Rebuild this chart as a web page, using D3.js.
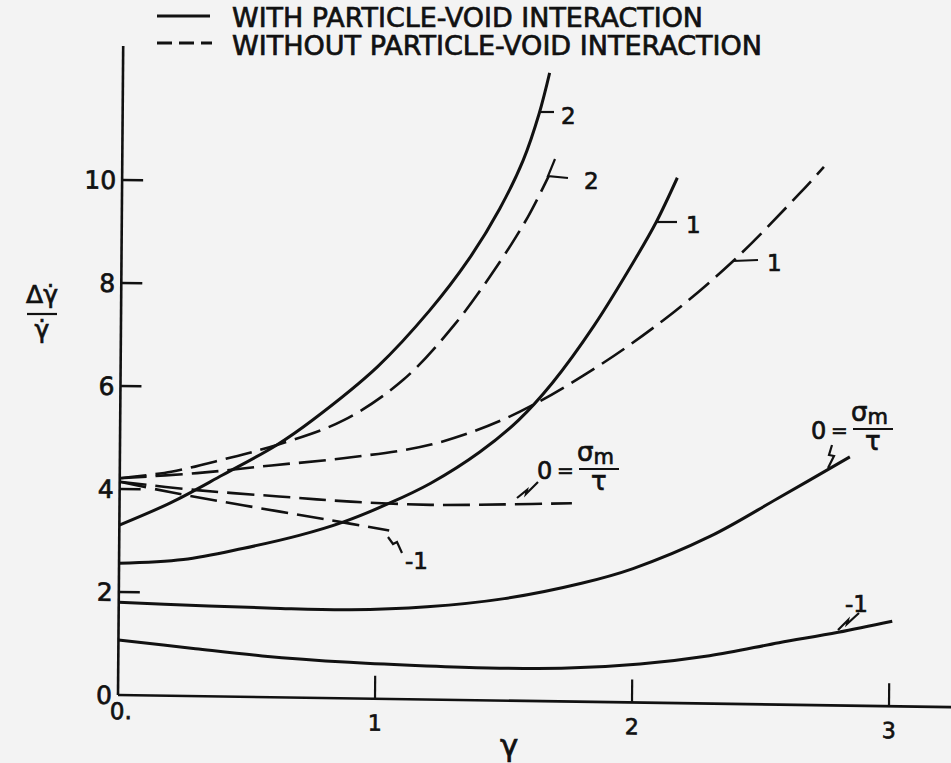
<!DOCTYPE html>
<html>
<head>
<meta charset="utf-8">
<script src="https://cdn.jsdelivr.net/npm/d3@7"></script>
<style>
  html, body { margin: 0; padding: 0; background: #f3f3f3; }
  text { font-family: 'DejaVu Sans', sans-serif; fill: #111; stroke: #111; stroke-width: 0.7px; }
</style>
</head>
<body>
<div id="chart"></div>
<script>
// readings: [gamma, delta-gamma-dot / gamma-dot]
var withTwo = [[0,3.3],[0.2,3.75],[0.4,4.3],[0.61,4.9],[0.75,5.4],[1.0,6.45],[1.2,7.55],[1.35,8.55],[1.47,9.55],[1.56,10.5],[1.62,11.4],[1.66,12.2]];
var withOne = [[0,2.56],[0.25,2.65],[0.48,2.88],[0.7,3.15],[0.87,3.42],[1.05,3.8],[1.21,4.2],[1.4,4.82],[1.55,5.45],[1.68,6.18],[1.84,7.3],[2.0,8.62],[2.08,9.34],[2.16,10.2]];
var withZero = [[0,1.8],[0.3,1.76],[0.6,1.73],[0.9,1.72],[1.2,1.8],[1.5,1.98],[1.8,2.3],[2.0,2.6],[2.3,3.25],[2.56,4.0],[2.84,4.83]];
var withMinusOne = [[0,1.07],[0.3,0.92],[0.56,0.8],[0.9,0.7],[1.2,0.65],[1.44,0.63],[1.75,0.65],[2.03,0.75],[2.3,0.93],[2.57,1.2],[2.8,1.42],[3.01,1.65]];

var withoutTwo = [[0,4.21],[0.2,4.35],[0.4,4.6],[0.61,4.9],[0.87,5.4],[1.1,6.2],[1.3,7.3],[1.47,8.5],[1.58,9.4],[1.66,10.2]];
var withoutOne = [[0,4.21],[0.3,4.33],[0.59,4.5],[0.9,4.68],[1.21,4.95],[1.5,5.48],[1.8,6.33],[2.11,7.43],[2.38,8.6],[2.64,9.95],[2.73,10.45]];
var withoutZero = [[0,4.14],[0.3,4.0],[0.62,3.9],[0.9,3.82],[1.21,3.78],[1.5,3.81],[1.76,3.85]];
var withoutMinusOne = [[0,4.14],[0.2,3.95],[0.48,3.72],[0.8,3.47],[1.05,3.27]];

var xTicks = [1, 2, 3];
var yTicks = [2, 4, 6, 8, 10];
var legendLabels = ['WITH PARTICLE-VOID INTERACTION', 'WITHOUT PARTICLE-VOID INTERACTION'];

var width = 951,
    height = 763;

var ink = '#111';

var svg = d3.select('#chart')
  .append('svg')
  .attr('width', width)
  .attr('height', height);

// the scan is a little skewed, so the plot frame is too
var g = svg.append('g')
  .attr('transform', 'matrix(1,0.0145,-0.008,1,118,695)');

var x = d3.scaleLinear().domain([0, 3]).range([0, 771]);
var y = d3.scaleLinear().domain([0, 10]).range([0, -515]);

// axes
g.append('line')
  .attr('x1', 0).attr('y1', 0)
  .attr('x2', x(3.25)).attr('y2', 0)
  .style('stroke', ink).style('stroke-width', 2.6);

g.append('line')
  .attr('x1', 0).attr('y1', 0)
  .attr('x2', 0).attr('y2', y(12.6))
  .style('stroke', ink).style('stroke-width', 2.6);

g.selectAll('.ytick')
  .data(yTicks)
  .enter().append('line')
  .attr('x1', 0).attr('x2', 21)
  .attr('y1', function(d) { return y(d); })
  .attr('y2', function(d) { return y(d); })
  .style('stroke', ink).style('stroke-width', 2.4);

g.selectAll('.ylabel')
  .data([0].concat(yTicks))
  .enter().append('text')
  .text(function(d) { return d; })
  .attr('x', -6)
  .attr('y', function(d) { return y(d) + 9; })
  .attr('text-anchor', 'end')
  .attr('font-size', '25px');

g.selectAll('.xtick')
  .data(xTicks)
  .enter().append('line')
  .attr('x1', function(d) { return x(d); })
  .attr('x2', function(d) { return x(d); })
  .attr('y1', 0).attr('y2', -23)
  .style('stroke', ink).style('stroke-width', 2.2);

g.selectAll('.xlabel')
  .data(xTicks)
  .enter().append('text')
  .text(function(d) { return d; })
  .attr('x', function(d) { return x(d); })
  .attr('y', 32)
  .attr('text-anchor', 'middle')
  .attr('font-size', '22px');

g.append('text')
  .text('0.')
  .attr('x', -8)
  .attr('y', 24)
  .attr('font-size', '23px');

// curves
var line = d3.line()
  .x(function(d) { return x(d[0]); })
  .y(function(d) { return y(d[1]); })
  .curve(d3.curveCatmullRom.alpha(0.5));

[withTwo, withOne, withZero, withMinusOne].forEach(function(s) {
  g.append('path')
    .attr('d', line(s))
    .style('fill', 'none')
    .style('stroke', ink)
    .style('stroke-width', 3);
});

[withoutTwo, withoutOne, withoutZero, withoutMinusOne].forEach(function(s) {
  g.append('path')
    .attr('d', line(s))
    .style('fill', 'none')
    .style('stroke', ink)
    .style('stroke-width', 2.6)
    .style('stroke-dasharray', '27,9');
});

// curve labels (screen coordinates)
var ann = svg.append('g')
  .style('stroke', ink)
  .style('stroke-width', 2.2)
  .style('fill', 'none');

ann.append('line').attr('x1', 539).attr('y1', 112).attr('x2', 554).attr('y2', 112);
ann.append('path').attr('d', 'M555,159 L548,176 L568,178');
ann.append('line').attr('x1', 657).attr('y1', 222).attr('x2', 677).attr('y2', 222);
ann.append('line').attr('x1', 733).attr('y1', 261).attr('x2', 758).attr('y2', 260);
ann.append('path').attr('d', 'M517,498 L527,490 L526,494 L538,482');
ann.append('path').attr('d', 'M388,537 L393,544 L397,542 L402,553');
ann.append('path').attr('d', 'M828,468 L834,456 L829,455 L832,445');
ann.append('path').attr('d', 'M838,630 L848,620 L847,624 L859,613');

function label(t, px, py, size) {
  svg.append('text')
    .text(t)
    .attr('x', px)
    .attr('y', py)
    .attr('font-size', size || '23px');
}

label('2', 561, 124);
label('2', 584, 189);
label('1', 686, 233);
label('1', 767, 271);
label('-1', 405, 569);
label('-1', 845, 612);

function sigmaLabel(px, py) {
  label('0', px, py + 17, '24px');
  label('=', px + 20, py + 15, '20px');
  var s = svg.append('text')
    .attr('x', px + 40)
    .attr('y', py - 1)
    .attr('font-size', '26px');
  s.append('tspan').text('σ');
  s.append('tspan').text('m').attr('font-size', '21px').attr('dy', 3);
  svg.append('line')
    .attr('x1', px + 42).attr('x2', px + 82)
    .attr('y1', py + 7).attr('y2', py + 7)
    .style('stroke', ink).style('stroke-width', 2.2);
  label('τ', px + 54, py + 28, '26px');
}

sigmaLabel(537, 462);
sigmaLabel(811, 422);

// axis titles
svg.append('text')
  .text('γ')
  .attr('x', 500)
  .attr('y', 756)
  .attr('font-size', '31px');

svg.append('text')
  .text('Δγ̇')
  .attr('x', 42)
  .attr('y', 303)
  .attr('text-anchor', 'middle')
  .attr('font-size', '25px');
svg.append('line')
  .attr('x1', 27).attr('x2', 57)
  .attr('y1', 314).attr('y2', 314)
  .style('stroke', ink).style('stroke-width', 2.2);
svg.append('text')
  .text('γ̇')
  .attr('x', 42)
  .attr('y', 338)
  .attr('text-anchor', 'middle')
  .attr('font-size', '25px');

// legend
svg.append('line')
  .attr('x1', 157).attr('x2', 210)
  .attr('y1', 16).attr('y2', 16)
  .style('stroke', ink).style('stroke-width', 2.8);
svg.append('line')
  .attr('x1', 157).attr('x2', 212)
  .attr('y1', 43).attr('y2', 43)
  .style('stroke', ink).style('stroke-width', 2.8)
  .style('stroke-dasharray', '15,7');

svg.append('text')
  .text(legendLabels[0])
  .attr('x', 232).attr('y', 27)
  .attr('font-size', '27px')
  .attr('textLength', 471)
  .attr('lengthAdjust', 'spacingAndGlyphs');
svg.append('text')
  .text(legendLabels[1])
  .attr('x', 232).attr('y', 55)
  .attr('font-size', '27px')
  .attr('textLength', 530)
  .attr('lengthAdjust', 'spacingAndGlyphs');
</script>
</body>
</html>
